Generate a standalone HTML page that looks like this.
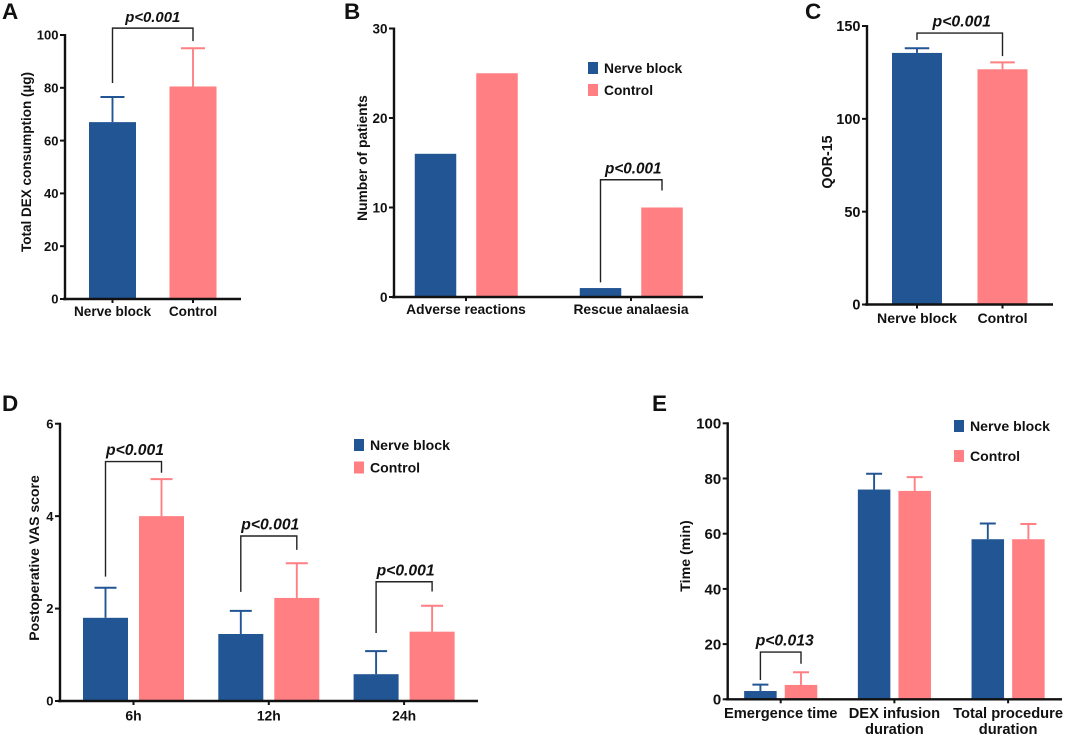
<!DOCTYPE html>
<html>
<head>
<meta charset="utf-8">
<title>Nerve block versus control outcomes</title>
<style>
html,body{margin:0;padding:0;background:#fff;width:1065px;height:737px;overflow:hidden}
svg{display:block;filter:blur(0.3px)}
text{font-family:"Liberation Sans",Arial,sans-serif;font-weight:bold;fill:#111}
</style>
</head>
<body>
<svg id="figure" width="1065" height="737" viewBox="0 0 1065 737" xmlns="http://www.w3.org/2000/svg"></svg>
<script>
// Panel A
const aCategories = ['Nerve block', 'Control'];
const aValues = [[67], [80.5]];
const aErrorTops = [[76.5], [95]];
const aTicks = [0, 20, 40, 60, 80, 100];
// Panel B
const bCategories = ['Adverse reactions', 'Rescue analaesia'];
const bBlockValues = [16, 1];
const bControlValues = [25, 10];
const bTicks = [0, 10, 20, 30];
// Panel C
const cCategories = ['Nerve block', 'Control'];
const cValues = [[135.5], [126.7]];
const cErrorTops = [[138], [130.4]];
const cTicks = [0, 50, 100, 150];
// Panel D
const dCategories = ['6h', '12h', '24h'];
const dBlockValues = [1.8, 1.45, 0.58];
const dControlValues = [4, 2.23, 1.5];
const dBlockErrorTops = [2.45, 1.95, 1.08];
const dControlErrorTops = [4.8, 2.98, 2.06];
const dTicks = [0, 2, 4, 6];
// Panel E
const eCategories = ['Emergence time', 'DEX infusion\nduration', 'Total procedure\nduration'];
const eBlockValues = [3, 76, 58];
const eControlValues = [5.2, 75.5, 58];
const eBlockErrorTops = [5.3, 81.7, 63.7];
const eControlErrorTops = [9.8, 80.5, 63.5];
const eTicks = [0, 20, 40, 60, 80, 100];
// Significance annotations, in each panel's y-axis units
const aBracketLevels = [102.6];
const aBracketLeftEnds = [81.8];
const aBracketRightEnds = [97.7];
const bBracketLevels = [13.1];
const bBracketLeftEnds = [1.64];
const bBracketRightEnds = [11.9];
const cBracketLevels = [146.2];
const cBracketLeftEnds = [142.5];
const cBracketRightEnds = [133.8];
const dBracketLevels = [5.18, 3.57, 2.58];
const dBracketLeftEnds = [2.69, 2.36, 1.47];
const dBracketRightEnds = [4.94, 3.27, 2.37];
const eBracketLevels = [17.1];
const eBracketLeftEnds = [7];
const eBracketRightEnds = [12.9];

const BLUE = '#225594';
const PINK = '#FF7F83';
const INK = '#111111';
const NS = 'http://www.w3.org/2000/svg';
const figure = document.getElementById('figure');

function add(parent, tag, attrs, content) {
  const el = document.createElementNS(NS, tag);
  for (const key in attrs) el.setAttribute(key, attrs[key]);
  if (content !== undefined) el.textContent = content;
  parent.appendChild(el);
  return el;
}

function drawPanel(p) {
  const yScale = v => p.yBase - (v / p.yMax) * (p.yBase - p.yTop);
  const groupX = i => p.firstTick + i * p.tickStep;

  const g = add(figure, 'g', {});
  
  

  const letter = add(g, 'text', {x: p.letterX, y: p.letterY, 'font-size': 22.5, fill: '#000'}, p.id.toUpperCase());
  
  

  // bars and error bars
  p.series.forEach(s => {
    s.values.forEach((value, i) => {
      const cx = p.single ? groupX(s.index) : groupX(i) + s.offset;
      if (s.errors) {
        const stem = add(g, 'line', {x1: cx, x2: cx, y1: yScale(value), y2: yScale(s.errors[i]), stroke: s.color, 'stroke-width': 1.9});
        
        
        const cap = add(g, 'line', {x1: cx - p.capWidth / 2, x2: cx + p.capWidth / 2, y1: yScale(s.errors[i]), y2: yScale(s.errors[i]), stroke: s.color, 'stroke-width': 2});
        
        
      }
      const bar = add(g, 'rect', {x: cx - p.barWidth / 2, y: yScale(value), width: p.barWidth, height: p.yBase - yScale(value), fill: s.color});
      
      
    });
  });

  // y axis
  const yAxis = add(g, 'line', {x1: p.axisX, x2: p.axisX, y1: p.yTop - 1, y2: p.yBase + 1.2, stroke: INK, 'stroke-width': 2.4});
  
  
  p.ticks.forEach(t => {
    const tick = add(g, 'line', {x1: p.axisX - 5, x2: p.axisX, y1: yScale(t), y2: yScale(t), stroke: INK, 'stroke-width': 2});
    
    
    const label = add(g, 'text', {x: p.axisX - 6.5, y: yScale(t) + p.tickSize * 0.36, 'text-anchor': 'end', 'font-size': p.tickSize}, String(t));
    
    
  });

  // x axis
  const xAxis = add(g, 'line', {x1: p.axisX - 2, x2: p.axisEnd, y1: p.yBase, y2: p.yBase, stroke: INK, 'stroke-width': 2.4});
  
  
  p.categories.forEach((c, i) => {
    const tx = groupX(i);
    const tick = add(g, 'line', {x1: tx, x2: tx, y1: p.yBase, y2: p.yBase + 4, stroke: INK, 'stroke-width': 2});
    
    
    c.split('\n').forEach((line, k) => {
      const label = add(g, 'text', {x: tx, y: p.catY + k * p.catLine, 'text-anchor': 'middle', 'font-size': p.catSize}, line);
      
      
    });
  });

  // axis title
  const title = add(g, 'text', {transform: 'translate(' + p.titleX + ',' + p.titleY + ') rotate(-90)', 'text-anchor': 'middle', 'font-size': p.titleSize}, p.title);
  
  

  // significance brackets
  p.bracket.levels.forEach((level, i) => {
    const lx = p.single ? groupX(0) : groupX(p.bracket.groups[i]) + p.series[0].offset;
    const rx = p.single ? groupX(1) : groupX(p.bracket.groups[i]) + p.series[1].offset;
    const d = 'M' + lx + ' ' + yScale(p.bracket.left[i]) + 'V' + yScale(level) + 'H' + rx + 'V' + yScale(p.bracket.right[i]);
    const br = add(g, 'path', {d: d, fill: 'none', stroke: '#222', 'stroke-width': 1.4});
    
    
    const pText = add(g, 'text', {x: (lx + rx) / 2 + p.bracket.dx, y: yScale(level) + p.bracket.dy, 'text-anchor': 'middle', 'font-size': p.bracket.size, 'font-style': 'italic'}, p.bracket.label);
    
    
  });

  // legend
  if (p.legend) {
    p.series.forEach((s, i) => {
      const top = p.legend.y + i * p.legend.gap;
      const swatch = add(g, 'rect', {x: p.legend.x, y: top, width: 10, height: 12, fill: s.color});
      
      
      const text = add(g, 'text', {x: p.legend.x + 16, y: top + 11, 'font-size': p.legend.size}, s.name);
      
      
    });
  }
}

drawPanel({
  id: 'a', letterX: 2, letterY: 19, single: true,
  axisX: 65, axisEnd: 241, yBase: 299, yTop: 35, yMax: 100,
  firstTick: 112.5, tickStep: 80.5, barWidth: 47, capWidth: 24,
  ticks: aTicks, tickSize: 13, categories: aCategories, catY: 316, catLine: 15, catSize: 13.6,
  title: 'Total DEX consumption (\u00b5g)', titleX: 31, titleY: 162, titleSize: 13.5,
  series: [
    {key: 'nerve-block', name: 'Nerve block', color: BLUE, index: 0, values: aValues[0], errors: aErrorTops[0]},
    {key: 'control', name: 'Control', color: PINK, index: 1, values: aValues[1], errors: aErrorTops[1]}
  ],
  bracket: {levels: aBracketLevels, left: aBracketLeftEnds, right: aBracketRightEnds, groups: [0], label: 'p<0.001', size: 14.9, dx: 0, dy: -6}
});

drawPanel({
  id: 'b', letterX: 344, letterY: 19,
  axisX: 394, axisEnd: 703, yBase: 297, yTop: 28.5, yMax: 30,
  firstTick: 466, tickStep: 165, barWidth: 41.5, capWidth: 0,
  ticks: bTicks, tickSize: 13.5, categories: bCategories, catY: 314, catLine: 15, catSize: 13.8,
  title: 'Number of patients', titleX: 367, titleY: 158, titleSize: 13.8,
  series: [
    {key: 'nerve-block', name: 'Nerve block', color: BLUE, offset: -30.5, values: bBlockValues},
    {key: 'control', name: 'Control', color: PINK, offset: 31, values: bControlValues}
  ],
  legend: {x: 588, y: 62, gap: 22, size: 13.8},
  bracket: {levels: bBracketLevels, left: bBracketLeftEnds, right: bBracketRightEnds, groups: [1], label: 'p<0.001', size: 15.3, dx: 2, dy: -6.5}
});

drawPanel({
  id: 'c', letterX: 805, letterY: 19, single: true,
  axisX: 867, axisEnd: 1053, yBase: 304.5, yTop: 26, yMax: 150,
  firstTick: 917, tickStep: 85.5, barWidth: 50, capWidth: 24.5,
  ticks: cTicks, tickSize: 14.5, categories: cCategories, catY: 323, catLine: 15, catSize: 14.1,
  title: 'QOR-15', titleX: 832, titleY: 162, titleSize: 14.3,
  series: [
    {key: 'nerve-block', name: 'Nerve block', color: BLUE, index: 0, values: cValues[0], errors: cErrorTops[0]},
    {key: 'control', name: 'Control', color: PINK, index: 1, values: cValues[1], errors: cErrorTops[1]}
  ],
  bracket: {levels: cBracketLevels, left: cBracketLeftEnds, right: cBracketRightEnds, groups: [0], label: 'p<0.001', size: 15.8, dx: 2, dy: -6.5}
});

drawPanel({
  id: 'd', letterX: 2, letterY: 411,
  axisX: 60, axisEnd: 478, yBase: 701, yTop: 423.7, yMax: 6,
  firstTick: 133.5, tickStep: 135.3, barWidth: 45, capWidth: 22,
  ticks: dTicks, tickSize: 13, categories: dCategories, catY: 720.5, catLine: 15, catSize: 13.9,
  title: 'Postoperative VAS score', titleX: 39, titleY: 558, titleSize: 14,
  series: [
    {key: 'nerve-block', name: 'Nerve block', color: BLUE, offset: -28, values: dBlockValues, errors: dBlockErrorTops},
    {key: 'control', name: 'Control', color: PINK, offset: 28, values: dControlValues, errors: dControlErrorTops}
  ],
  legend: {x: 354, y: 439, gap: 22.5, size: 14.1},
  bracket: {levels: dBracketLevels, left: dBracketLeftEnds, right: dBracketRightEnds, groups: [0, 1, 2], label: 'p<0.001', size: 15.7, dx: 1.5, dy: -6.5}
});

drawPanel({
  id: 'e', letterX: 652, letterY: 411,
  axisX: 727.7, axisEnd: 1062, yBase: 699.3, yTop: 423.3, yMax: 100,
  firstTick: 780.7, tickStep: 113.7, barWidth: 32.5, capWidth: 16,
  ticks: eTicks, tickSize: 15, categories: eCategories, catY: 718, catLine: 16, catSize: 14.7,
  title: 'Time (min)', titleX: 690, titleY: 556, titleSize: 14.2,
  series: [
    {key: 'nerve-block', name: 'Nerve block', color: BLUE, offset: -20.3, values: eBlockValues, errors: eBlockErrorTops},
    {key: 'control', name: 'Control', color: PINK, offset: 20.3, values: eControlValues, errors: eControlErrorTops}
  ],
  legend: {x: 954, y: 420, gap: 30, size: 14.1},
  bracket: {levels: eBracketLevels, left: eBracketLeftEnds, right: eBracketRightEnds, groups: [0], label: 'p<0.013', size: 15.7, dx: 4, dy: -6.5}
});
</script>
</body>
</html>
